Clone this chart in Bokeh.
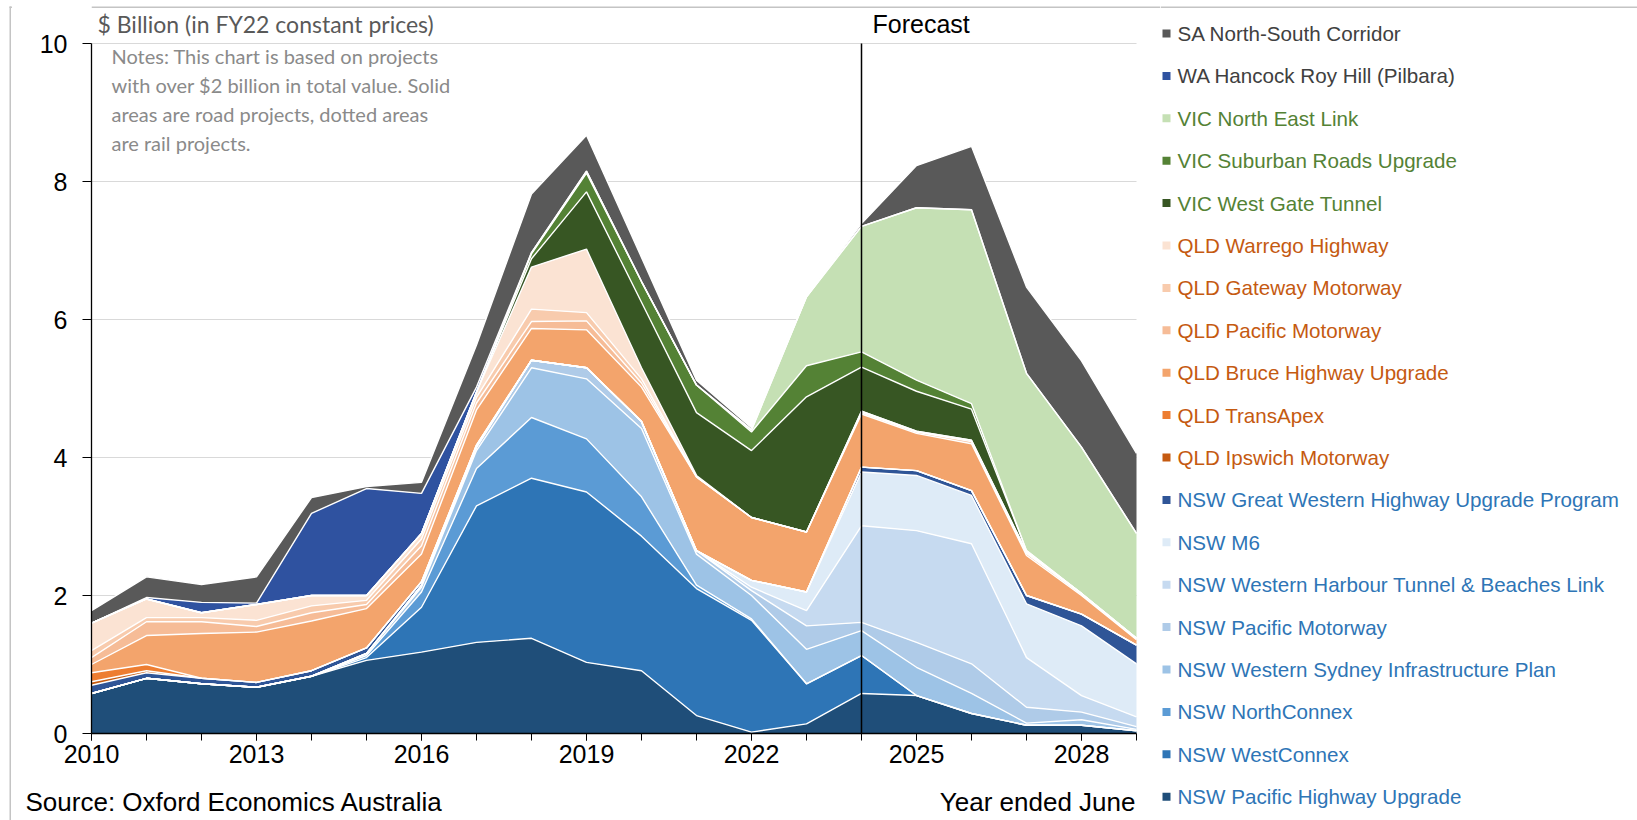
import numpy as np
from bokeh.plotting import figure
from bokeh.layouts import row, column
from bokeh.models import ColumnDataSource, Label, FixedTicker, Range1d
from bokeh.core.properties import value
from bokeh.embed import file_html
from bokeh.resources import INLINE

# ---------------- data ($ billion, FY22 prices), year ended June ----------------
years = list(range(2010, 2030))
forecast_start = 2024

nsw_pacific_highway = [0.58, 0.80, 0.72, 0.67, 0.83, 1.06, 1.18, 1.32, 1.38, 1.03, 0.91, 0.26, 0.02, 0.14, 0.58, 0.55, 0.29, 0.12, 0.12, 0.04]
nsw_westconnex      = [0, 0, 0, 0, 0, 0.04, 0.65, 1.98, 2.32, 2.47, 1.95, 1.84, 1.62, 0.58, 0.55, 0, 0, 0, 0, 0]
nsw_northconnex     = [0, 0, 0, 0, 0, 0.03, 0.22, 0.54, 0.88, 0.77, 0.57, 0.05, 0.02, 0, 0, 0, 0, 0, 0, 0]
nsw_wsip            = [0, 0, 0, 0, 0, 0.03, 0.07, 0.26, 0.72, 0.87, 0.99, 0.45, 0.34, 0.50, 0.36, 0.41, 0.29, 0.03, 0.08, 0.02]
nsw_pacific_mwy     = [0, 0, 0, 0, 0, 0, 0.03, 0.05, 0.11, 0.16, 0.10, 0.05, 0.07, 0.34, 0.12, 0.36, 0.43, 0.23, 0.11, 0.04]
nsw_wht_beaches     = [0, 0, 0, 0, 0, 0, 0, 0, 0, 0, 0, 0, 0.05, 0.22, 1.40, 1.62, 1.74, 0.72, 0.24, 0.14]
nsw_m6              = [0, 0, 0, 0, 0, 0, 0, 0, 0, 0, 0, 0, 0.10, 0.27, 0.78, 0.80, 0.70, 0.78, 1.01, 0.77]
nsw_great_western   = [0.12, 0.08, 0.08, 0.07, 0.08, 0.08, 0.05, 0.03, 0, 0, 0, 0, 0, 0, 0.07, 0.07, 0.07, 0.12, 0.17, 0.27]
qld_ipswich         = [0.05, 0.03, 0, 0, 0, 0, 0, 0, 0, 0, 0, 0, 0, 0, 0, 0, 0, 0, 0, 0]
qld_transapex       = [0.13, 0.09, 0, 0, 0, 0, 0, 0, 0, 0, 0, 0, 0, 0, 0, 0, 0, 0, 0, 0]
qld_bruce           = [0.12, 0.42, 0.65, 0.73, 0.72, 0.57, 0.40, 0.51, 0.46, 0.55, 0.50, 1.07, 0.91, 0.87, 0.77, 0.54, 0.68, 0.58, 0.27, 0.08]
qld_pacific_mwy     = [0.10, 0.20, 0.17, 0.08, 0.12, 0.06, 0.12, 0.10, 0.10, 0.13, 0.06, 0, 0, 0, 0.02, 0.02, 0.03, 0.03, 0.02, 0.02]
qld_gateway         = [0.10, 0.06, 0.06, 0.09, 0.10, 0.06, 0.10, 0.08, 0.18, 0.12, 0.06, 0, 0, 0, 0.02, 0.01, 0.02, 0.02, 0.01, 0]
qld_warrego         = [0.40, 0.27, 0.07, 0.23, 0.15, 0.07, 0.08, 0.08, 0.61, 0.92, 0.16, 0.02, 0, 0, 0, 0, 0, 0, 0, 0]
vic_west_gate       = [0, 0, 0, 0, 0, 0, 0, 0, 0.12, 0.83, 0.95, 0.91, 0.97, 1.96, 0.64, 0.58, 0.45, 0.02, 0, 0]
vic_suburban_roads  = [0, 0, 0, 0, 0, 0, 0, 0, 0.07, 0.27, 0.30, 0.40, 0.27, 0.45, 0.22, 0.16, 0.08, 0, 0, 0]
vic_north_east_link = [0, 0, 0, 0, 0, 0, 0, 0, 0.02, 0.03, 0, 0, 0.03, 1.00, 1.82, 2.50, 2.81, 2.57, 2.12, 1.52]
wa_roy_hill         = [0, 0.02, 0.15, 0.02, 1.19, 1.55, 0.58, 0.07, 0, 0, 0, 0, 0, 0, 0, 0, 0, 0, 0, 0]
sa_north_south      = [0.18, 0.30, 0.26, 0.38, 0.23, 0.03, 0.16, 0.61, 0.85, 0.52, 0.35, 0.07, 0.03, 0, 0.04, 0.61, 0.92, 1.25, 1.25, 1.16]

x_tick_labels = [2010, 2013, 2016, 2019, 2022, 2025, 2028]
y_ticks = [0, 2, 4, 6, 8, 10]

# stack order: bottom -> top
series = [
    ("NSW Pacific Highway Upgrade", nsw_pacific_highway, "#1F4E79", "NSW"),
    ("NSW WestConnex", nsw_westconnex, "#2E75B6", "NSW"),
    ("NSW NorthConnex", nsw_northconnex, "#5B9BD5", "NSW"),
    ("NSW Western Sydney Infrastructure Plan", nsw_wsip, "#9DC3E6", "NSW"),
    ("NSW Pacific Motorway", nsw_pacific_mwy, "#AFCBE8", "NSW"),
    ("NSW Western Harbour Tunnel & Beaches Link", nsw_wht_beaches, "#C6DAF0", "NSW"),
    ("NSW M6", nsw_m6, "#DEEBF7", "NSW"),
    ("NSW Great Western Highway Upgrade Program", nsw_great_western, "#2F5597", "NSW"),
    ("QLD Ipswich Motorway", qld_ipswich, "#C55A11", "QLD"),
    ("QLD TransApex", qld_transapex, "#ED7D31", "QLD"),
    ("QLD Bruce Highway Upgrade", qld_bruce, "#F3A46C", "QLD"),
    ("QLD Pacific Motorway", qld_pacific_mwy, "#F6BC97", "QLD"),
    ("QLD Gateway Motorway", qld_gateway, "#F8CBAD", "QLD"),
    ("QLD Warrego Highway", qld_warrego, "#FBE3D3", "QLD"),
    ("VIC West Gate Tunnel", vic_west_gate, "#375623", "VIC"),
    ("VIC Suburban Roads Upgrade", vic_suburban_roads, "#548235", "VIC"),
    ("VIC North East Link", vic_north_east_link, "#C5E0B4", "VIC"),
    ("WA Hancock Roy Hill (Pilbara)", wa_roy_hill, "#2F52A0", "WA"),
    ("SA North-South Corridor", sa_north_south, "#595959", "SA"),
]
group_text_color = {"NSW": "#2E75B6", "QLD": "#C55A11", "VIC": "#548235", "WA": "#404040", "SA": "#404040"}

# ---------------- layout geometry (page px) ----------------
PAGE_W, PAGE_H = 1637, 820
LEFT_W = 12                                     # thin strip carrying the left border line
MAIN_RIGHT, MAIN_BOTTOM = 1160, 780             # page x / y where main chart block ends
F_LEFT, F_RIGHT, F_BOTTOM = 91, 1136, 733       # plot area edges (page); frame top = 0
X0, X1 = 2010, 2029
PX_PER_YEAR = (F_RIGHT - F_LEFT) / (X1 - X0)
PX_PER_UNIT = 69.0
Y_TOP = F_BOTTOM / PX_PER_UNIT                  # value at the top of the frame
BORDER = "#c4c4c4"
BORDER_Y0, BORDER_Y1, BORDER_X = 6, 7.5, 9     # outer hairline position

def dx(px):
    return X0 + (px - F_LEFT) / PX_PER_YEAR

def dy(py):
    return (F_BOTTOM - py) / PX_PER_UNIT

X_END = dx(MAIN_RIGHT)                          # frame runs to the legend panel

def no_align(fig):
    if "frame_align" in fig.properties():
        fig.frame_align = False

def blank(width, height, xr, yr):
    f = figure(width=width, height=height, x_range=Range1d(*xr), y_range=Range1d(*yr),
               output_backend="svg", toolbar_location=None, title=None,
               x_axis_type=None, y_axis_type=None, min_border=0,
               min_border_left=0, min_border_right=0, min_border_top=0, min_border_bottom=0)
    f.outline_line_color = None
    f.grid.visible = False
    f.background_fill_color = "white"
    f.border_fill_color = "white"
    no_align(f)
    return f

# ---------------- main chart ----------------
MAIN_W, MAIN_H = MAIN_RIGHT - LEFT_W, MAIN_BOTTOM
p = figure(width=MAIN_W, height=MAIN_H, x_range=Range1d(X0, X_END), y_range=Range1d(0, Y_TOP),
           output_backend="svg", toolbar_location=None, title=None,
           min_border_left=F_LEFT - LEFT_W, min_border_right=0,
           min_border_top=0, min_border_bottom=MAIN_BOTTOM - F_BOTTOM)
p.outline_line_color = None
p.background_fill_color = "white"
p.border_fill_color = "white"
no_align(p)
p.xgrid.visible = False
p.ygrid.visible = False

# horizontal gridlines limited to the plot area (2010-2029)
p.segment(x0=[X0] * len(y_ticks), y0=y_ticks, x1=[X1] * len(y_ticks), y1=y_ticks,
          line_color="#d9d9d9", line_width=1.2)

src = ColumnDataSource(dict(year=years, **{f"s{i}": s[1] for i, s in enumerate(series)}))
keys = [f"s{i}" for i in range(len(series))]
p.varea_stack(stackers=keys, x="year", color=[s[2] for s in series], source=src)

cum = np.cumsum(np.array([s[1] for s in series], dtype=float), axis=0)
for r in cum:
    p.line(years, r, line_color="white", line_width=1.4)

# forecast divider from axis to top gridline
p.segment(x0=[forecast_start], y0=[y_ticks[0]], x1=[forecast_start], y1=[y_ticks[-1]],
          line_color="black", line_width=1.5)

# outer border hairline (top) across the chart block
p.quad(left=[X0], right=[X_END], top=[dy(BORDER_Y0)], bottom=[dy(BORDER_Y1)], color=BORDER, line_color=None)

ax = p.xaxis[0]
ax.ticker = FixedTicker(ticks=x_tick_labels, minor_ticks=years)
ax.bounds = (X0, X1)
ax.major_tick_in = 0
ax.major_tick_out = 7
ax.minor_tick_in = 0
ax.minor_tick_out = 7
ax.minor_tick_line_color = "black"
ax.major_tick_line_color = "black"
ax.axis_line_color = "black"
ax.axis_line_width = 1.3
ax.major_label_text_font = "Liberation Sans"
ax.major_label_text_font_size = "25px"
ax.major_label_text_color = "black"
ax.major_label_standoff = 4

ay = p.yaxis[0]
ay.ticker = FixedTicker(ticks=y_ticks, minor_ticks=[])
ay.bounds = (y_ticks[0], y_ticks[-1])
ay.major_tick_in = 0
ay.major_tick_out = 9
ay.minor_tick_line_color = None
ay.major_tick_line_color = "black"
ay.axis_line_color = "black"
ay.axis_line_width = 1.3
ay.major_label_text_font = "Liberation Sans"
ay.major_label_text_font_size = "25px"
ay.major_label_text_color = "black"
ay.major_label_standoff = 15

def label(fig, x, y, text, size, color, font="Liberation Sans", align="left"):
    fig.add_layout(Label(x=x, y=y, text=text, text_font=font, text_font_size=size,
                         text_color=color, text_baseline="middle", text_align=align))

label(p, dx(97), dy(23), "$ Billion (in FY22 constant prices)", "23px", "#595959", font="Lato")
notes = ["Notes: This chart is based on projects",
         "with over $2 billion in total value. Solid",
         "areas are road projects, dotted areas",
         "are rail projects."]
for i, t in enumerate(notes):
    label(p, dx(111), dy(55 + 29 * i), t, "20px", "#8a8a8a", font="Lato")
label(p, dx(872), dy(23), "Forecast", "25px", "black")

# ---------------- bottom strip (source / axis note) ----------------
s = blank(MAIN_W, PAGE_H - MAIN_BOTTOM, (LEFT_W, MAIN_RIGHT), (PAGE_H, MAIN_BOTTOM))
s.text(x=[25], y=[801], text=["Source: Oxford Economics Australia"], text_font=value("Liberation Sans"),
       text_font_size=value("26px"), text_color="black", text_baseline="middle", text_align="left")
s.text(x=[1135], y=[801], text=["Year ended June"], text_font=value("Liberation Sans"),
       text_font_size=value("26px"), text_color="black", text_baseline="middle", text_align="right")

# ---------------- legend panel ----------------
lg = blank(PAGE_W - MAIN_RIGHT, PAGE_H, (MAIN_RIGHT, PAGE_W), (PAGE_H, 0))
lg.quad(left=[MAIN_RIGHT], right=[PAGE_W], top=[BORDER_Y0], bottom=[BORDER_Y1], color=BORDER, line_color=None)
rev = list(reversed(series))
leg_src = ColumnDataSource(dict(
    name=[r[0] for r in rev],
    color=[r[2] for r in rev],
    tcolor=[group_text_color[r[3]] for r in rev],
    y=[33 + 42.4 * i for i in range(len(rev))],
    mx=[1166] * len(rev),
    tx=[1177] * len(rev),
))
lg.scatter(x="mx", y="y", marker="square", size=8, color="color", line_color=None, source=leg_src)
lg.text(x="tx", y="y", text="name", text_color="tcolor", text_font=value("Liberation Sans"),
        text_font_size=value("20.6px"), text_baseline="middle", text_align="left", source=leg_src)

# ---------------- left border strip ----------------
left = blank(LEFT_W, PAGE_H, (0, LEFT_W), (PAGE_H, 0))
left.quad(left=[BORDER_X], right=[LEFT_W], top=[BORDER_Y0], bottom=[BORDER_Y1], color=BORDER, line_color=None)
left.quad(left=[BORDER_X], right=[BORDER_X + 1.5], top=[BORDER_Y0], bottom=[PAGE_H], color=BORDER, line_color=None)

layout = row(left, column(p, s, spacing=0), lg, spacing=0)
open("out.html", "w").write(file_html(layout, INLINE))
